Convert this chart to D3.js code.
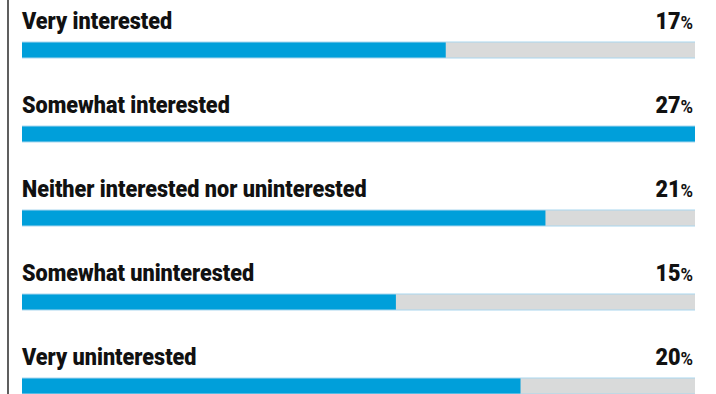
<!DOCTYPE html>
<html>
<head>
<meta charset="utf-8">
<script src="https://cdn.jsdelivr.net/npm/d3@7"></script>
<style>
  body { margin: 0; background: #fff; }
  text { font-family: Roboto, "Liberation Sans", sans-serif; font-weight: 900; }
</style>
</head>
<body>
<svg id="chart" width="716" height="394"></svg>
<script>
var categories = ["Very interested", "Somewhat interested", "Neither interested nor uninterested", "Somewhat uninterested", "Very uninterested"];
var values = [17, 27, 21, 15, 20];

var svg = d3.select("#chart");
var width = +svg.attr("width");
var height = +svg.attr("height");

var barLeft = 22;
var barRight = 695;
var rowStep = 84;
var barTop = 42;
var barHeight = 16;
var squeeze = 0.94; // no condensed face installed, so narrow the text a bit

var x = d3.scaleLinear()
  .domain([0, d3.max(values)])
  .range([barLeft, barRight]);

var y = d3.scaleBand()
  .domain(categories)
  .range([0, rowStep * categories.length]);

svg.append("line")
  .attr("x1", 8).attr("x2", 8)
  .attr("y1", 0).attr("y2", height)
  .attr("stroke", "#1a1a1a")
  .attr("stroke-width", 1.4);

var rows = svg.selectAll("g.row")
  .data(categories)
  .enter().append("g")
  .attr("class", "row")
  .attr("transform", function (d) { return "translate(0," + y(d) + ")"; });

rows.append("rect")
  .attr("x", barLeft)
  .attr("y", barTop)
  .attr("width", barRight - barLeft)
  .attr("height", barHeight)
  .attr("fill", "#d9dada");

rows.append("rect")
  .attr("x", barLeft)
  .attr("y", barTop)
  .attr("width", function (d, i) { return x(values[i]) - barLeft; })
  .attr("height", barHeight)
  .attr("fill", "#009fda");

[barTop, barTop + barHeight].forEach(function (yy) {
  rows.append("line")
    .attr("x1", barLeft).attr("x2", barRight)
    .attr("y1", yy).attr("y2", yy)
    .attr("stroke", "#a9d6ee")
    .attr("stroke-width", 1);
});

rows.append("text")
  .attr("transform", "translate(" + barLeft + ",29) scale(" + squeeze + ",1)")
  .attr("font-size", 23)
  .attr("fill", "#111")
  .text(function (d) { return d; });

var pct = rows.append("text")
  .attr("transform", "translate(" + (barRight - 2) + ",29) scale(" + squeeze + ",1)")
  .attr("text-anchor", "end")
  .attr("fill", "#111");
pct.append("tspan")
  .attr("font-size", 23)
  .text(function (d, i) { return values[i]; });
pct.append("tspan")
  .attr("font-size", 18)
  .attr("font-weight", 700)
  .text("%");
</script>
</body>
</html>
